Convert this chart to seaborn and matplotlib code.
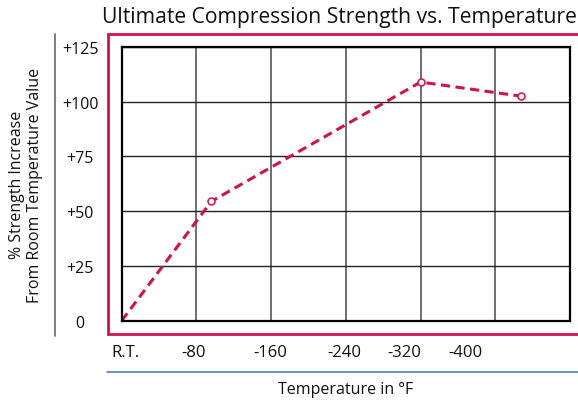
import pandas as pd
import matplotlib
matplotlib.use('Agg')
import matplotlib.pyplot as plt
from matplotlib.lines import Line2D
from matplotlib.ticker import FixedLocator
import seaborn as sns

# data
temperature_f = [0, -96, -320, -428]
strength_gain = [0, 54.5, 109, 102.5]

x_tick_labels = ['R.T.', '-80', '-160', '-240', '-320', '-400']
x_tick_pos = [-3.5, -77, -159, -238, -303, -368]
x_grid = [-80, -160, -240, -320, -400]

y_ticks = [0, 25, 50, 75, 100, 125]
y_tick_labels = ['0', '+25', '+50', '+75', '+100', '+125']

accent = '#d3124a'

sns.set_style('white')
plt.rcParams['font.family'] = ['Open Sans', 'DejaVu Sans']

df = pd.DataFrame({'Temperature': temperature_f, 'Gain': strength_gain})

fig = plt.figure(figsize=(5.78, 4.02), dpi=100)
W, H = 578, 402
ax = fig.add_axes([121.7 / W, 1 - 321.7 / H, 448.3 / W, 273.7 / H])

sns.lineplot(data=df, x='Temperature', y='Gain', ax=ax, sort=False,
             color=accent, linewidth=2.2, linestyle=(0, (3, 1.8)),
             marker='o', markersize=5, markerfacecolor='white',
             markeredgecolor=accent, markeredgewidth=1.1, markevery=[1, 2, 3])

ax.set_xlim(0, -480)
ax.set_ylim(0, 125)

# grid: vertical lines on minor ticks, labels on major ticks
ax.xaxis.set_minor_locator(FixedLocator(x_grid))
ax.set_xticks(x_tick_pos, x_tick_labels)
ax.set_yticks(y_ticks, y_tick_labels)
ax.grid(which='minor', axis='x', color='#555555', linewidth=1.2)
ax.grid(which='major', axis='y', color='#222222', linewidth=1.0)
ax.grid(which='major', axis='x', visible=False)
ax.set_axisbelow(True)

ax.tick_params(axis='both', which='both', length=0)
ax.tick_params(axis='x', pad=17, labelsize=12, labelcolor='#111111')
ax.tick_params(axis='y', pad=30, labelsize=11.5, labelcolor='#111111')
for lbl in ax.get_yticklabels():
    lbl.set_horizontalalignment('center')

for sp in ax.spines.values():
    sp.set_visible(True)
    sp.set_color('black')
    sp.set_linewidth(1.6)

ax.set_xlabel('')
ax.set_ylabel('')

# decorations around the plot (the pink frame is open on the right side)
xl, yt, yb = 107.7 / W, 1 - 35 / H, 1 - 335 / H
fig.lines.append(Line2D([1.0, xl, xl, 1.0], [yt, yt, yb, yb],
                        transform=fig.transFigure, color=accent, linewidth=2.0,
                        solid_joinstyle='miter'))
fig.lines.append(Line2D([55 / W, 55 / W], [1 - 35 / H, 1 - 337 / H],
                        transform=fig.transFigure, color='#666666', linewidth=1.2))
fig.lines.append(Line2D([107 / W, 1.0], [1 - 373 / H, 1 - 373 / H],
                        transform=fig.transFigure, color='#5a7fb0', linewidth=1.2))

fig.text(577 / W, 1 - 23 / H, 'Ultimate Compression Strength vs. Temperature',
         ha='right', va='baseline', fontsize=15.2, color='#111111')
fig.text(346 / W, 1 - 390 / H, 'Temperature in °F', ha='center', va='center',
         fontsize=11.5, color='#111111')
fig.text(26 / W, 1 - 185 / H, '% Strength Increase\nFrom Room Temperature Value',
         ha='center', va='center', rotation=90, fontsize=11.5,
         multialignment='center', color='#111111', linespacing=1.15)

fig.savefig('out.png', dpi=100)
